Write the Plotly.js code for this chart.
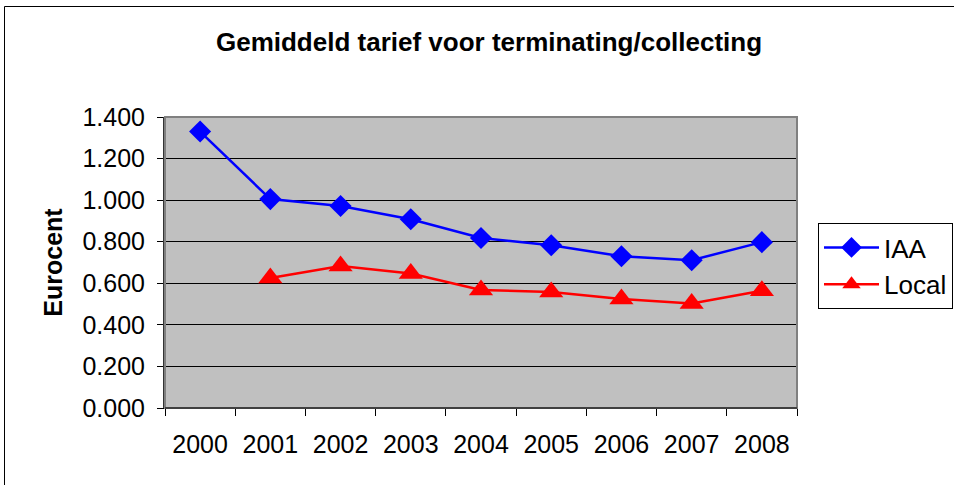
<!DOCTYPE html>
<html>
<head>
<meta charset="utf-8">
<script src="https://cdn.plot.ly/plotly-3.0.1.min.js"></script>
<style>
html,body{margin:0;padding:0;background:#fff;}
#chart{width:954px;height:485px;}
</style>
</head>
<body>
<div id="chart"></div>
<script>
const years = ["2000","2001","2002","2003","2004","2005","2006","2007","2008"];
const iaaValues = [1.330, 1.005, 0.972, 0.908, 0.818, 0.783, 0.730, 0.711, 0.798];
const localYears = ["2001","2002","2003","2004","2005","2006","2007","2008"];
const localValues = [0.625, 0.683, 0.647, 0.568, 0.558, 0.524, 0.503, 0.564];
const yTicks = [0, 0.2, 0.4, 0.6, 0.8, 1.0, 1.2, 1.4];

const font = "Liberation Sans, Arial, sans-serif";
const L = 165, R = 797, T = 117, B = 408;
const W = 954, H = 485;
const pw = R - L, ph = B - T;
const px = v => (v - L) / pw;
const py = v => (B - v) / ph;

const traces = [
  {
    x: years, y: iaaValues, name: "IAA", type: "scatter", mode: "lines+markers",
    line: {color: "#0000ff", width: 2.5},
    marker: {symbol: "diamond", size: 17, color: "#0000ff"}
  },
  {
    x: localYears, y: localValues, name: "Local", type: "scatter", mode: "lines+markers",
    line: {color: "#ff0000", width: 2.5},
    marker: {symbol: "triangle-up", size: 21, color: "#ff0000"}
  }
];

const layout = {
  width: W, height: H,
  margin: {l: L, r: W - R, t: T, b: H - B, pad: 0, autoexpand: false},
  paper_bgcolor: "#ffffff",
  plot_bgcolor: "#c0c0c0",
  font: {family: font, size: 25, color: "#000"},
  title: {
    text: "<b>Gemiddeld tarief voor terminating/collecting</b>",
    font: {family: font, size: 26, color: "#000"},
    x: 489 / W, xanchor: "center", y: 1 - 42 / H, yanchor: "middle"
  },
  xaxis: {
    type: "category", categoryorder: "array", categoryarray: years,
    range: [-0.5, 8.5], tickson: "boundaries",
    ticks: "outside", ticklen: 7, tickcolor: "#000", tickwidth: 1,
    ticklabelstandoff: 14,
    showgrid: false, zeroline: false,
    showline: true, linecolor: "#000", linewidth: 1,
    tickfont: {family: font, size: 25, color: "#000"},
    fixedrange: true
  },
  yaxis: {
    range: [0, 1.4], tickvals: yTicks, tickformat: ".3f",
    ticks: "outside", ticklen: 6, tickcolor: "#000", tickwidth: 1,
    ticklabelstandoff: 7,
    showgrid: true, gridcolor: "#000", gridwidth: 1,
    zeroline: false, showline: true, linecolor: "#333", linewidth: 2,
    tickfont: {family: font, size: 25, color: "#000"},
    title: {text: "<b>Eurocent</b>", font: {family: font, size: 25, color: "#000"}, standoff: 13},
    fixedrange: true
  },
  legend: {
    xref: "container", yref: "container",
    x: 818 / W, y: 1 - 223 / H, xanchor: "left", yanchor: "top",
    bgcolor: "#ffffff", bordercolor: "#000", borderwidth: 1,
    font: {family: font, size: 26, color: "#000"},
    itemwidth: 55, tracegroupgap: 0
  },
  shapes: [
    {type: "rect", xref: "paper", yref: "paper",
     x0: 0, x1: 1, y0: 0, y1: 1, line: {color: "#808080", width: 2}, fillcolor: "rgba(0,0,0,0)"},
    {type: "line", xref: "paper", yref: "paper",
     x0: 0, x1: 1, y0: 0, y1: 0, line: {color: "#000", width: 1}},
    {type: "rect", xref: "paper", yref: "paper",
     x0: px(4.5), x1: px(962), y0: py(6.5), y1: py(492), line: {color: "#000", width: 1}, fillcolor: "rgba(0,0,0,0)"}
  ],
  showlegend: true
};

Plotly.newPlot("chart", traces, layout, {displayModeBar: false, staticPlot: true});
</script>
</body>
</html>
